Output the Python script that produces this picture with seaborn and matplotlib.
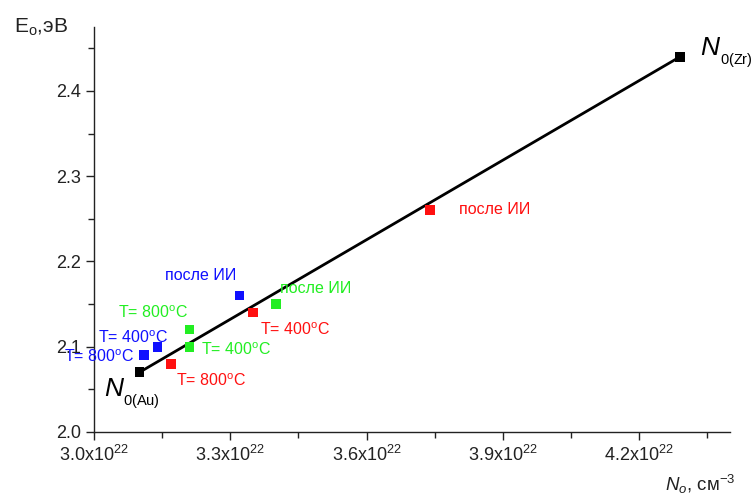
import matplotlib
matplotlib.use("Agg")
import matplotlib.pyplot as plt
import seaborn as sns
import pandas as pd
from matplotlib.ticker import FixedLocator, FuncFormatter, MultipleLocator

sns.set_style("white")
plt.rcParams['font.family'] = ['Liberation Sans', 'DejaVu Sans']
plt.rcParams['mathtext.fontset'] = 'custom'
plt.rcParams['mathtext.rm'] = 'Liberation Sans'
plt.rcParams['mathtext.it'] = 'Liberation Sans:italic'

# data (N0 in units of 1e22 cm^-3, E0 in eV)
line_x = [3.10, 4.29]
line_y = [2.07, 2.44]

black_x = [3.10, 4.29]
black_y = [2.07, 2.44]

red_x = [3.17, 3.35, 3.74]
red_y = [2.08, 2.14, 2.26]
red_labels = ["T= 800$^\\mathrm{o}$C", "T= 400$^\\mathrm{o}$C", "после ИИ"]

green_x = [3.21, 3.21, 3.40]
green_y = [2.12, 2.10, 2.15]
green_labels = ["T= 800$^\\mathrm{o}$C", "T= 400$^\\mathrm{o}$C", "после ИИ"]

blue_x = [3.11, 3.14, 3.32]
blue_y = [2.09, 2.10, 2.16]
blue_labels = ["T= 800$^\\mathrm{o}$C", "T= 400$^\\mathrm{o}$C", "после ИИ"]

x_ticks = [3.0, 3.3, 3.6, 3.9, 4.2]
y_ticks = [2.0, 2.1, 2.2, 2.3, 2.4]

colors = {"red": "#ff1010", "green": "#22ee22", "blue": "#1010ff", "black": "#000000"}

pts = pd.DataFrame({
    "x": red_x + green_x + blue_x + black_x,
    "y": red_y + green_y + blue_y + black_y,
    "grp": ["red"] * 3 + ["green"] * 3 + ["blue"] * 3 + ["black"] * 2,
})

fig = plt.figure(figsize=(7.54, 4.97), dpi=100)
ax = fig.add_axes([0.1247, 0.1308, 0.968 - 0.1247, 0.9457 - 0.1308])

sns.lineplot(x=line_x, y=line_y, ax=ax, color="black", linewidth=2.0, zorder=2)
sns.scatterplot(data=pts, x="x", y="y", hue="grp", palette=colors, marker="s",
                s=48, edgecolor="none", legend=False, ax=ax, zorder=3)

ax.set_xlim(3.0, 4.4)
ax.set_ylim(2.0, 2.475)
ax.xaxis.set_major_locator(FixedLocator(x_ticks))
ax.xaxis.set_minor_locator(MultipleLocator(0.15))
ax.yaxis.set_major_locator(FixedLocator(y_ticks))
ax.yaxis.set_minor_locator(MultipleLocator(0.05))
ax.xaxis.set_major_formatter(FuncFormatter(lambda v, p: f"{v:.1f}x10$^{{22}}$"))
ax.yaxis.set_major_formatter(FuncFormatter(lambda v, p: f"{v:.1f}"))
ax.tick_params(axis="both", which="major", direction="out", length=6, width=1.0,
               labelsize=13, colors="#222222", bottom=True, left=True)
ax.tick_params(axis="both", which="minor", direction="out", length=4, width=1.0,
               bottom=True, left=True, colors="#222222")
for s in ["top", "right"]:
    ax.spines[s].set_visible(False)
for s in ["left", "bottom"]:
    ax.spines[s].set_color("#222222")
    ax.spines[s].set_linewidth(1.0)
ax.set_xlabel("")
ax.set_ylabel("")

fig.text(0.018, 0.935, "E$_\\mathrm{o}$,эВ", fontsize=15, color="#222222")
fig.text(0.882, 0.012, "$\\mathit{N}_\\mathit{o}$, см$^{-3}$", fontsize=13.5, color="#222222")

# annotations
fs = 11.5
def lab(x, y, text, color, dx, dy, ha="center"):
    ax.annotate(text, (x, y), xytext=(dx, dy), textcoords="offset pixels",
                ha=ha, va="center", fontsize=fs, color=color)

lab(red_x[0], red_y[0], red_labels[0], colors["red"], 40, -17)
lab(red_x[1], red_y[1], red_labels[1], colors["red"], 42, -17)
lab(red_x[2], red_y[2], red_labels[2], colors["red"], 29, 1, ha="left")

lab(green_x[0], green_y[0], green_labels[0], colors["green"], -36, 17)
lab(green_x[1], green_y[1], green_labels[1], colors["green"], 47, -3)
lab(green_x[2], green_y[2], green_labels[2], colors["green"], 40, 16)

lab(blue_x[0], blue_y[0], blue_labels[0], colors["blue"], -45, -1)
lab(blue_x[1], blue_y[1], blue_labels[1], colors["blue"], -25, 9)
lab(blue_x[2], blue_y[2], blue_labels[2], colors["blue"], -39, 20)

def nlab(x, y, sub, dx, dy):
    ax.annotate("N", (x, y), xytext=(dx, dy), textcoords="offset pixels",
                ha="center", va="center", fontsize=19, style="italic",
                color="black", annotation_clip=False)
    ax.annotate("$\\mathit{0}$" + sub, (x, y), xytext=(dx + 10, dy - 12),
                textcoords="offset pixels", ha="left", va="center", fontsize=10.5,
                color="black", annotation_clip=False)

nlab(black_x[0], black_y[0], "(Au)", -26, -17)
nlab(black_x[1], black_y[1], "(Zr)", 30, 9)

fig.savefig("out.png", dpi=100)
